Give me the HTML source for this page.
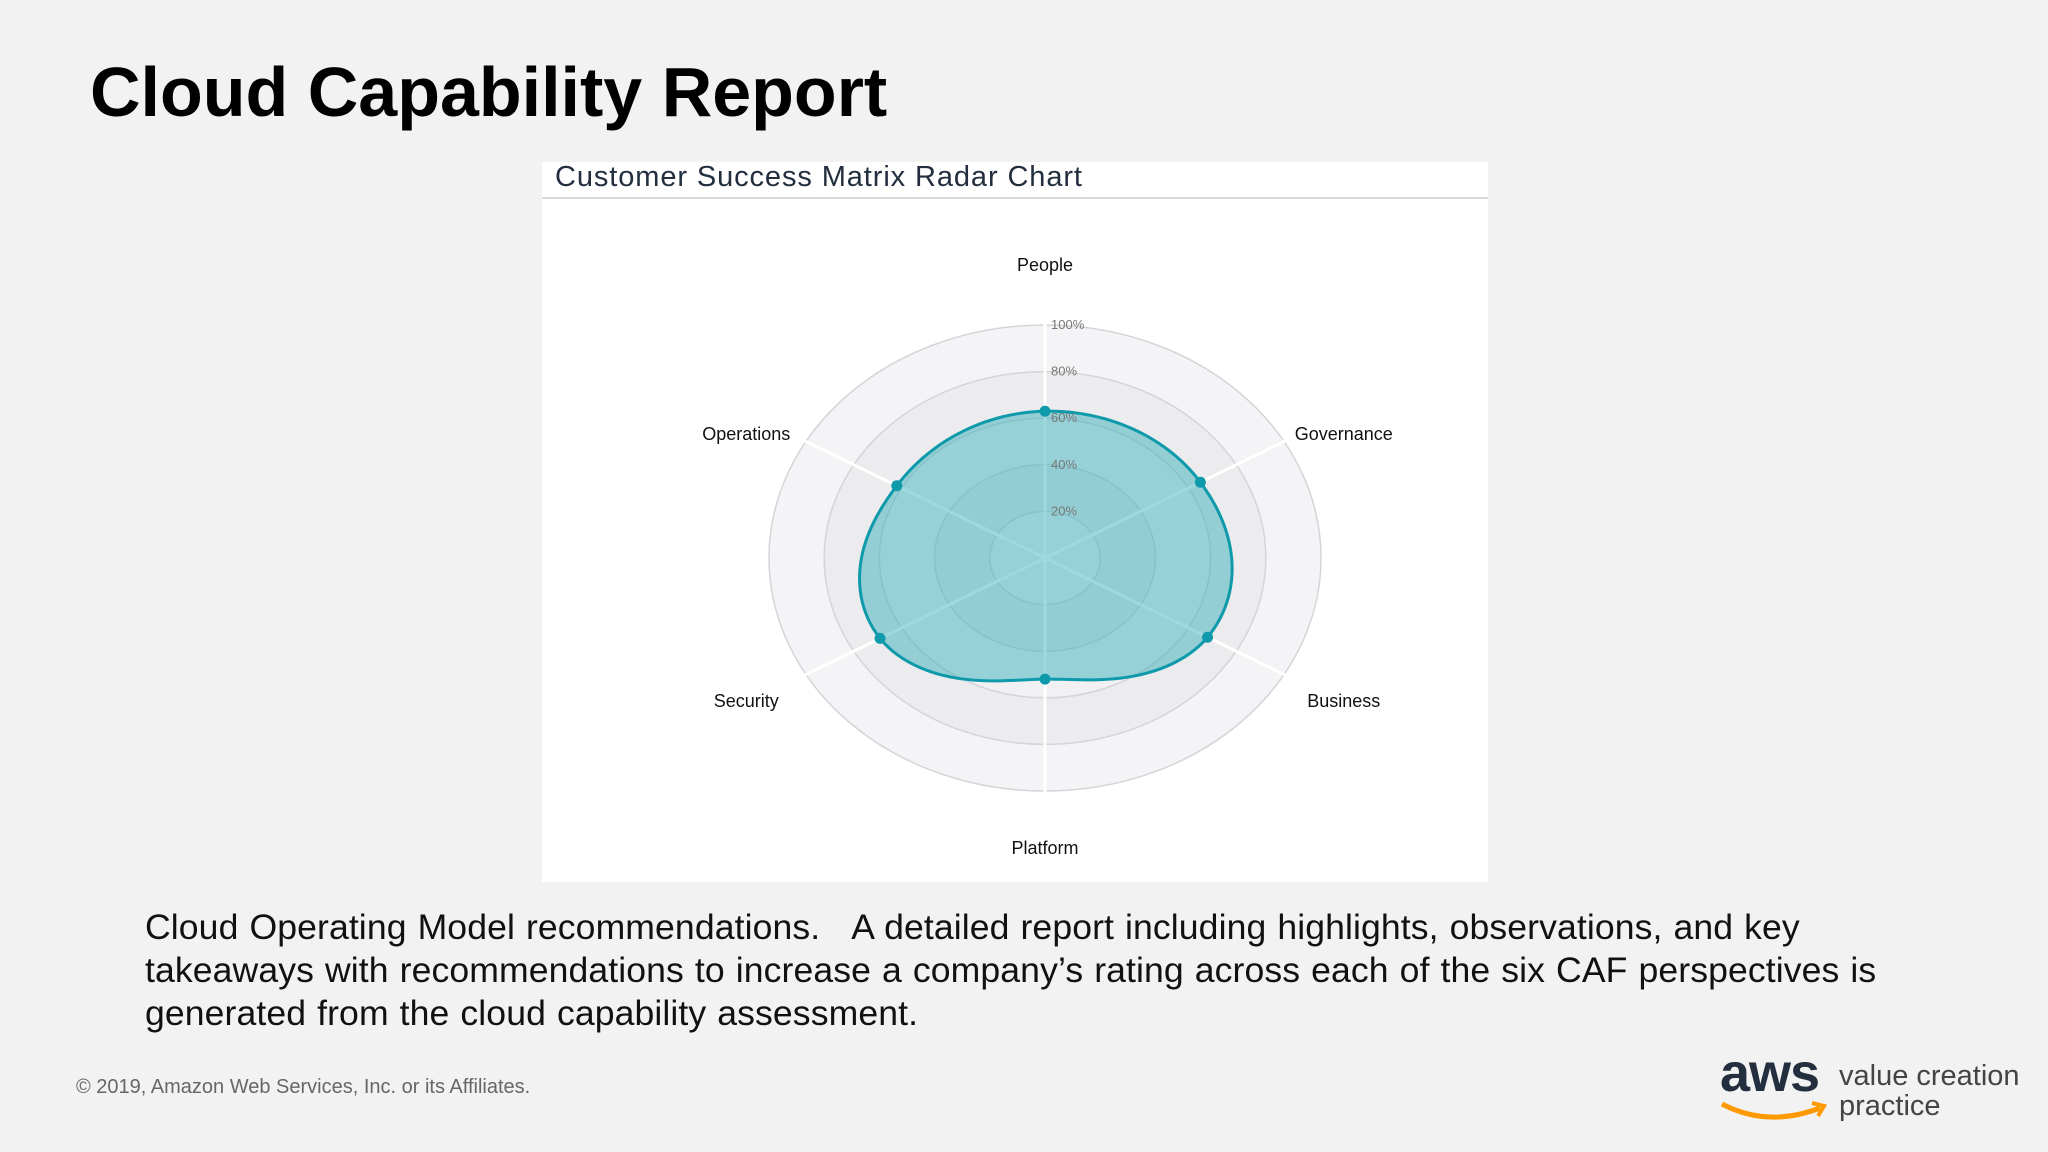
<!DOCTYPE html>
<html><head><meta charset="utf-8">
<style>
html,body{margin:0;padding:0}
body{width:2048px;height:1152px;background:#f2f2f2;position:relative;overflow:hidden;font-family:"Liberation Sans",sans-serif}
.abs{position:absolute;margin:0}
</style></head>
<body>
<h1 class="abs" style="left:90px;top:52px;font-size:70px;font-weight:bold;color:#000;letter-spacing:0px">Cloud Capability Report</h1>
<svg class="abs" style="left:0;top:0" width="2048" height="1152">
  <rect x="542" y="162" width="946" height="720" fill="#fff"/>
  <text x="555" y="186" font-size="29" letter-spacing="0.9" fill="#232f3e" font-family="Liberation Sans">Customer Success Matrix Radar Chart</text>
  <line x1="542" y1="198" x2="1488" y2="198" stroke="#ccc" stroke-width="1.5"/>
  <g id="rings"></g><g id="axes"></g><g id="series"></g><g id="labels"></g>
</svg>
<div class="abs" style="left:145px;top:906px;font-size:35.6px;line-height:43px;color:#111;width:1900px;letter-spacing:0.1px;word-spacing:1px">Cloud Operating Model recommendations.&nbsp;&nbsp; A detailed report including highlights, observations, and key<br>takeaways with recommendations to increase a company’s rating across each of the six CAF perspectives is<br>generated from the cloud capability assessment.</div>
<div class="abs" style="left:76px;top:1076px;font-size:20px;color:#666">© 2019, Amazon Web Services, Inc. or its Affiliates.</div>
<div class="abs" style="left:1718px;top:1048px;width:320px;height:90px">
  <div class="abs" style="left:2px;top:-6px;font-size:54px;font-weight:bold;color:#232f3e;letter-spacing:-1px">aws</div>
  <svg class="abs" style="left:0;top:50px" width="110" height="30"><path d="M4 6 Q50 30 102 10" stroke="#f90" stroke-width="5" fill="none"/><path d="M94 5 L106 8 L100 18" stroke="#f90" stroke-width="4" fill="none"/></svg>
  <div class="abs" style="left:121px;top:13px;font-size:29px;line-height:30px;color:#444">value creation<br>practice</div>
</div>
<script>
const categories=["People","Governance","Business","Platform","Security","Operations"];
const values=[0.63,0.65,0.68,0.52,0.69,0.62];
const ticks=["20%","40%","60%","80%","100%"];
const cx=1045,cy=558,rx=276,ry=233;
const NS="http://www.w3.org/2000/svg";
function mk(t,a,p){const e=document.createElementNS(NS,t);for(const k in a)e.setAttribute(k,a[k]);p.appendChild(e);return e;}
function ang(i){return i*2*Math.PI/categories.length;}
function ptA(a,v){return [cx+rx*v*Math.sin(a),cy-ry*v*Math.cos(a)];}
function pt(i,v){return ptA(ang(i),v);}
const rings=document.getElementById('rings'),axes=document.getElementById('axes'),series=document.getElementById('series'),labels=document.getElementById('labels');
const fills=["#f4f3f5","#ecebed","#f1f0f2","#ebeaec","#f1f0f2"];
for(let k=ticks.length;k>=1;k--){
  const e=mk('ellipse',{cx,cy,rx:rx*k/ticks.length,ry:ry*k/ticks.length,fill:fills[ticks.length-k],stroke:"#d6d4d8","stroke-width":1.5},rings);
  
  
}
categories.forEach((c,i)=>{
  const [x,y]=pt(i,1.05);
  const l=mk('line',{x1:cx,y1:cy,x2:x,y2:y,stroke:"#fff","stroke-width":3},axes);
  
  
});
const n=values.length;let d="";const steps=30;
for(let i=0;i<n;i++){
  const v0=values[(i-1+n)%n],v1=values[i],v2=values[(i+1)%n],v3=values[(i+2)%n];
  for(let s=0;s<steps;s++){
    const t=s/steps,t2=t*t,t3=t2*t;
    const v=0.5*((2*v1)+(-v0+v2)*t+(2*v0-5*v1+4*v2-v3)*t2+(-v0+3*v1-3*v2+v3)*t3);
    const p=ptA(ang(i)+t*2*Math.PI/n,v);
    d+=(d?"L":"M")+p[0].toFixed(2)+","+p[1].toFixed(2);
  }
}
const area=mk('path',{d:d+"Z",fill:"rgba(40,170,185,0.45)",stroke:"#0e9aaa","stroke-width":3},series);


values.forEach((v,i)=>{
  const p=pt(i,v);
  const c=mk('circle',{cx:p[0],cy:p[1],r:5.5,fill:"#0e9aaa"},series);
  
  
});
ticks.forEach((tk,k)=>{
  const e=mk('text',{x:cx+6,y:cy-ry*(k+1)/ticks.length+4,"font-size":13,fill:"#777","font-family":"Liberation Sans"},labels);
  e.textContent=tk;
  
  
});
const labelDy=[-293,-124,143,290,143,-124];
categories.forEach((c,i)=>{
  const [x]=pt(i,1.25);
  const e=mk('text',{x:x,y:cy+labelDy[i]+6,"font-size":18,fill:"#111","text-anchor":"middle","font-family":"Liberation Sans"},labels);
  e.textContent=c;
  
  
});
</script>
</body></html>
